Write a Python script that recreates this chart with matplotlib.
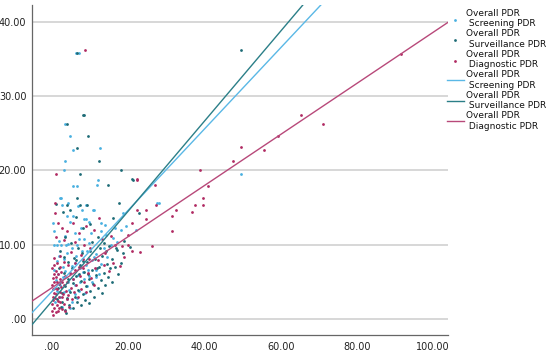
import numpy as np
import matplotlib
matplotlib.use("Agg")
import matplotlib.pyplot as plt
from matplotlib.ticker import FuncFormatter

# screening PDR (x = overall PDR, y = screening PDR)
scr_x = [7.0, 6.3, 3.5, 4.7, 5.5, 12.5, 3.5, 3.2, 49.5, 27.6, 28.1,
         12.1, 11.8, 5.5, 6.6, 2.4, 2.1, 2.6, 6.8, 7.9, 10.8, 3.9, 5.5, 18.7, 8.4, 11.1, 4.7, 0.3, 8.9, 9.7,
         12.9, 13.9, 12.9, 14.2, 16.0, 0.5, 1.8, 7.6, 10.3, 8.4,
         0.5, 1.3, 2.4, 3.6, 4.2, 5.3, 6.6, 7.9, 9.2, 11.6,
         1.3, 3.2, 5.3, 6.0, 7.2, 8.0, 9.0, 10.5, 11.5, 12.8, 14.5, 13.5, 15.5, 17.0, 18.2, 19.5, 16.5,
         1.0, 1.6, 2.2, 2.8, 3.5, 4.1, 4.8, 5.5, 6.1, 6.8, 7.4, 8.3, 9.1, 9.8, 10.6, 11.4, 12.3,
         3.0, 4.4, 5.9, 7.0, 8.6, 2.0, 3.8, 5.1, 6.5, 1.4, 0.8, 2.6, 4.6, 9.5, 10.9, 6.3, 4.0, 2.9,
         0.6, 1.9, 3.3, 5.9, 7.1, 9.6, 22.0, 8.8, 4.2]
scr_y = [35.8, 35.8, 26.3, 24.7, 22.8, 23.0, 21.3, 20.1, 19.5, 15.6, 15.6,
         18.7, 18.0, 17.9, 17.9, 16.3, 16.3, 15.4, 15.2, 14.6, 14.6, 13.8, 13.8, 14.2, 13.4, 14.6, 13.0, 12.9, 13.4, 13.1,
         12.9, 12.6, 11.8, 11.3, 10.9, 11.8, 10.5, 12.3, 11.5, 10.7,
         9.9, 9.9, 9.9, 9.9, 10.1, 9.5, 9.9, 9.1, 9.1, 8.7,
         7.8, 8.1, 7.1, 7.5, 6.8, 6.3, 7.2, 7.9, 6.6, 7.4, 8.3, 9.6, 9.9, 10.4, 11.9, 12.5, 12.2,
         5.2, 6.1, 4.6, 5.6, 6.4, 5.0, 6.2, 5.4, 4.6, 5.9, 4.9, 5.4, 4.4, 5.8, 4.9, 5.6, 6.0,
         3.6, 3.9, 3.4, 3.8, 3.5, 2.9, 2.6, 2.2, 2.8, 3.8, 2.2, 1.6, 1.4, 6.6, 8.3, 8.5, 8.8, 7.0,
         6.6, 8.4, 11.2, 11.6, 10.8, 10.2, 12.0, 15.3, 15.6]

# surveillance PDR
sur_x = [6.6, 49.5, 8.0, 8.4, 4.0, 9.4, 6.6, 12.2, 7.4, 18.0, 21.0, 21.3, 14.7, 6.6, 3.9, 7.4, 9.2, 17.6,
         4.7, 2.9, 6.3, 22.9, 16.0, 1.0, 8.1, 10.0, 12.0, 13.5, 15.0, 17.0, 19.0, 18.5, 20.5, 3.5, 5.0, 6.9, 2.1,
         2.0, 2.5, 3.0, 3.4, 3.9, 4.3, 4.8, 5.2, 5.6, 6.0, 6.4, 6.8, 7.2, 7.6, 8.0, 8.4, 8.8, 9.2, 9.6, 10.0,
         10.4, 10.8, 11.2, 11.6, 12.0, 12.4, 12.8, 13.2, 13.6, 14.0, 14.4, 14.8, 15.3, 15.8, 16.5, 17.2,
         4.5, 5.5, 6.5, 7.5, 3.3, 2.6, 8.6, 9.8, 11.0, 5.8, 7.9, 9.9, 4.1, 3.1, 6.2, 10.6, 12.6, 14.2,
         1.8, 1.5, 2.3, 3.6, 1.2, 7.0, 8.2, 9.4, 11.8, 13.0, 15.6, 16.8, 18.0]
sur_y = [35.8, 36.2, 27.5, 27.5, 26.3, 24.7, 23.0, 21.3, 19.5, 20.1, 18.8, 18.7, 18.0, 16.3, 15.3, 15.4, 15.3, 15.6,
         14.7, 14.4, 13.7, 14.2, 13.6, 15.5, 12.2, 12.8, 11.0, 10.2, 9.8, 9.3, 10.5, 8.9, 9.7, 11.0, 10.2, 9.5, 9.2,
         5.0, 3.5, 6.2, 4.4, 2.8, 5.4, 3.6, 6.8, 4.8, 2.9, 5.7, 3.9, 7.2, 5.1, 3.3, 6.3, 4.4, 7.6, 5.4, 3.7,
         6.6, 4.7, 8.0, 5.9, 4.1, 7.0, 5.2, 8.5, 6.2, 4.6, 7.4, 5.6, 6.8, 8.1, 7.0, 6.1,
         1.9, 1.5, 2.2, 1.8, 1.2, 2.2, 2.5, 2.1, 3.0, 8.2, 8.8, 9.1, 7.6, 8.3, 7.9, 10.4, 9.5, 9.1,
         6.8, 4.1, 1.6, 0.8, 2.6, 6.0, 7.8, 6.0, 6.9, 3.5, 4.9, 9.6, 7.5]

# diagnostic PDR
dia_x = [8.7, 91.6, 65.3, 71.0, 59.2, 55.5, 49.5, 47.6, 38.7, 1.0, 22.3, 22.4, 40.8, 27.0, 27.4, 39.5, 37.4,
         39.5, 32.4, 36.8, 24.7, 31.6, 24.7, 31.6, 26.3, 0.8, 0.8, 12.4, 22.3, 21.0, 20.0, 18.4, 23.0, 21.0, 17.9,
         1.5, 2.5, 4.0, 5.5, 7.0, 9.0, 11.0, 3.0, 6.0, 8.5, 10.0, 13.0, 15.5, 16.5, 14.0, 12.0, 16.0, 19.0,
         20.0, 15.0, 13.5, 11.3, 9.7, 7.7, 5.0, 2.0, 0.6, 1.1,
         0.0, 0.1, 0.2, 0.3, 0.4, 0.5, 0.1, 0.2, 0.3, 0.0, 0.4, 0.6, 0.7, 0.8, 0.9, 1.0, 1.1, 1.2, 1.3, 1.4,
         1.5, 1.6, 1.7, 1.8, 1.9, 2.0, 2.1, 2.2, 2.3, 2.4, 2.5, 2.6, 2.8, 3.0, 3.2, 3.4, 3.6, 3.8, 4.0, 4.3,
         4.6, 4.9, 5.2, 5.5, 5.8, 6.1, 6.4, 6.8, 7.2, 7.6, 8.0, 8.5, 9.0, 9.5, 10.2, 11.0, 0.5, 1.2, 2.0,
         0.2, 0.9, 1.6, 2.7, 3.5, 4.5, 6.0, 7.0, 8.2, 3.0, 4.2]
dia_y = [36.2, 35.7, 27.5, 26.3, 24.7, 22.8, 23.1, 21.3, 20.1, 19.5, 18.8, 18.7, 17.9, 18.0, 15.3, 16.3, 15.4,
         15.4, 14.6, 14.4, 14.6, 13.8, 13.4, 11.8, 9.8, 15.6, 14.2, 13.6, 14.6, 12.9, 11.3, 9.8, 9.0, 9.1, 7.1,
         12.9, 12.2, 11.8, 12.9, 11.5, 12.5, 11.9, 10.6, 10.3, 10.0, 9.5, 10.8, 11.2, 10.0, 8.8, 7.9, 7.5, 8.3,
         10.0, 6.5, 7.2, 6.8, 8.0, 8.6, 9.0, 8.5, 8.2, 11.0,
         1.0, 2.0, 3.0, 4.0, 5.0, 6.0, 6.8, 5.5, 2.5, 4.5, 3.5, 1.5, 2.8, 4.2, 5.6, 6.5, 3.3, 1.9, 5.0, 4.0,
         2.4, 6.0, 3.0, 4.7, 1.4, 5.4, 3.6, 2.2, 6.3, 4.3, 2.9, 5.0, 3.3, 4.6, 2.0, 5.8, 3.8, 2.6, 5.0, 3.2,
         6.2, 4.1, 2.7, 5.3, 3.6, 6.6, 4.5, 3.0, 5.8, 4.0, 6.9, 5.0, 3.6, 6.2, 5.5, 4.6, 7.2, 7.5, 7.0,
         0.5, 0.9, 1.1, 1.3, 1.0, 1.6, 7.5, 7.0, 8.0, 7.6, 7.2]

# fitted lines (intercept, slope)
fit_scr = (3.7, 0.547)
fit_sur = (2.4, 0.606)
fit_dia = (4.2, 0.344)

c_scr = '#49b0e0'
c_sur = '#1d6b76'
c_dia = '#b02a62'
l_scr = '#5ab8e6'
l_sur = '#2b7f88'
l_dia = '#b8497a'

fig = plt.figure(figsize=(5.5, 3.52), dpi=100)
ax = fig.add_axes([0.058, 0.048, 0.757, 0.938])

ax.scatter(scr_x, scr_y, s=4, color=c_scr, linewidths=0, label='Overall PDR\n Screening PDR', zorder=3)
ax.scatter(sur_x, sur_y, s=4, color=c_sur, linewidths=0, label='Overall PDR\n Surveillance PDR', zorder=3)
ax.scatter(dia_x, dia_y, s=4, color=c_dia, linewidths=0, label='Overall PDR\n Diagnostic PDR', zorder=3)

xs = np.array([-5.3, 104])
for (b0, b1), col, lab in [(fit_scr, l_scr, 'Overall PDR\n Screening PDR'),
                           (fit_sur, l_sur, 'Overall PDR\n Surveillance PDR'),
                           (fit_dia, l_dia, 'Overall PDR\n Diagnostic PDR')]:
    ax.plot(xs, b0 + b1 * xs, color=col, lw=1.0, label=lab, zorder=4)

ax.set_xlim(-5.3, 104)
ax.set_ylim(-2.2, 42.3)
ax.set_xticks([0, 20, 40, 60, 80, 100])
ax.set_yticks([0, 10, 20, 30, 40])
fmt = FuncFormatter(lambda v, p: '.00' if v == 0 else f'{v:.2f}')
ax.xaxis.set_major_formatter(fmt)
ax.yaxis.set_major_formatter(fmt)
ax.tick_params(length=0, labelsize=7, colors='#222222')
ax.tick_params(axis='x', pad=5)
ax.tick_params(axis='y', pad=4)
ax.grid(axis='y', color='#d4d4d4', lw=1.3)
ax.set_axisbelow(True)
for s in ['top', 'right']:
    ax.spines[s].set_visible(False)
for s in ['left', 'bottom']:
    ax.spines[s].set_color('#666666')
    ax.spines[s].set_linewidth(0.9)

fig.legend(loc='upper left', bbox_to_anchor=(0.812, 0.975), frameon=False, fontsize=6.5,
           labelspacing=0.12, handlelength=1.9, handletextpad=0.3, markerscale=1.0,
           borderaxespad=0, borderpad=0, labelcolor='#111111')

fig.savefig('out.png', dpi=100)
